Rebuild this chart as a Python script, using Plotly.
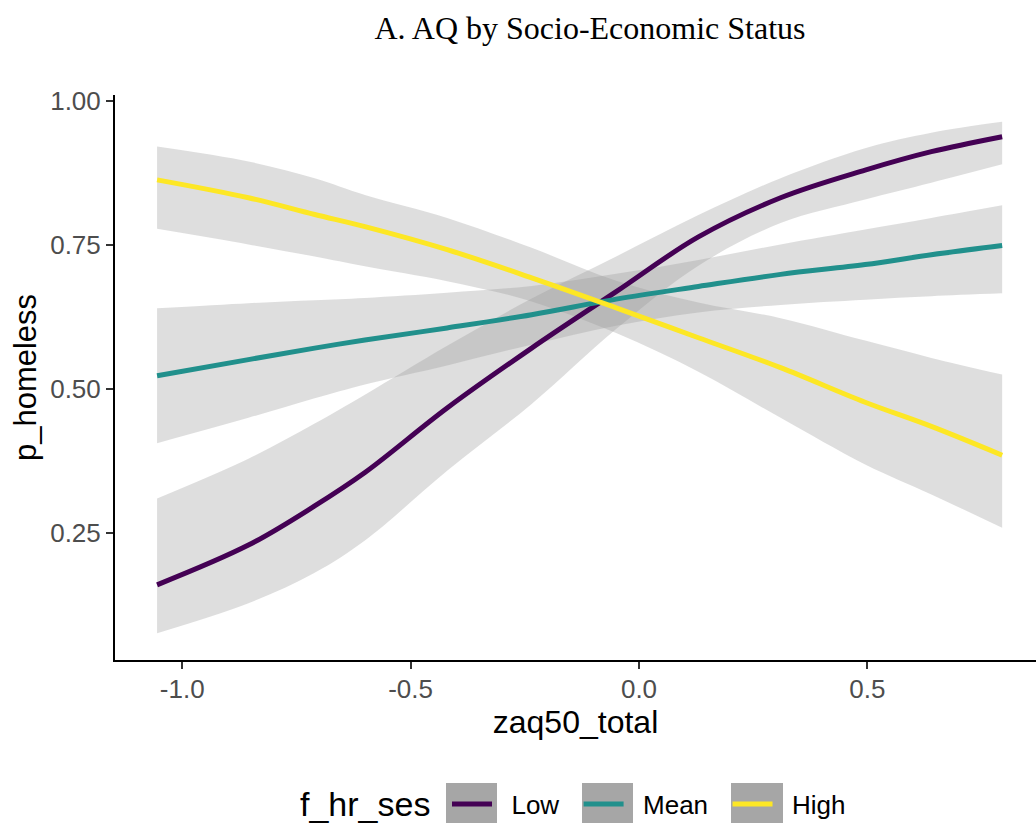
import plotly.graph_objects as go

# ---- data ----
x_vals = [-1.055, -0.855, -0.71, -0.60, -0.42, -0.235, -0.05, 0.13, 0.31, 0.495, 0.64, 0.795]

low_fit   = [0.160, 0.229, 0.297, 0.355, 0.467, 0.571, 0.669, 0.764, 0.832, 0.880, 0.912, 0.938]
low_upper = [0.310, 0.379, 0.440, 0.490, 0.575, 0.657, 0.730, 0.802, 0.866, 0.918, 0.945, 0.964]
low_lower = [0.076, 0.128, 0.181, 0.237, 0.358, 0.474, 0.604, 0.714, 0.788, 0.829, 0.858, 0.890]

mean_fit   = [0.523, 0.551, 0.571, 0.585, 0.606, 0.629, 0.656, 0.678, 0.699, 0.716, 0.733, 0.749]
mean_upper = [0.640, 0.649, 0.654, 0.658, 0.667, 0.679, 0.700, 0.724, 0.751, 0.777, 0.797, 0.819]
mean_lower = [0.406, 0.450, 0.484, 0.508, 0.541, 0.577, 0.610, 0.633, 0.646, 0.655, 0.661, 0.666]

high_fit   = [0.863, 0.832, 0.803, 0.782, 0.742, 0.693, 0.641, 0.589, 0.537, 0.477, 0.435, 0.385]
high_upper = [0.921, 0.895, 0.866, 0.837, 0.797, 0.745, 0.688, 0.650, 0.623, 0.584, 0.554, 0.525]
high_lower = [0.778, 0.751, 0.730, 0.713, 0.687, 0.652, 0.597, 0.530, 0.450, 0.369, 0.317, 0.259]

groups = ["Low", "Mean", "High"]
colors = ["#440154", "#21908C", "#FDE725"]
fits = [low_fit, mean_fit, high_fit]
uppers = [low_upper, mean_upper, high_upper]
lowers = [low_lower, mean_lower, high_lower]
legend_title = "f_hr_ses"

x_ticks = [-1.0, -0.5, 0.0, 0.5]
x_ticktext = ["-1.0", "-0.5", "0.0", "0.5"]
y_ticks = [0.25, 0.50, 0.75, 1.00]
y_ticktext = ["0.25", "0.50", "0.75", "1.00"]

RIBBON = "rgba(153,153,153,0.32)"
NB = "\u00a0"

fig = go.Figure()

# ribbons first (beneath every line)
for g, lo, up in zip(groups, lowers, uppers):
    fig.add_trace(go.Scatter(x=x_vals, y=lo, mode="lines", line=dict(width=0, shape="spline"),
                             showlegend=False, hoverinfo="skip"))
    fig.add_trace(go.Scatter(x=x_vals, y=up, mode="lines", line=dict(width=0, shape="spline"),
                             fill="tonexty", fillcolor=RIBBON, showlegend=False, hoverinfo="skip"))

# fitted lines (legend labels padded so the text sits clear of the grey key box)
pads = [(2, 2), (2, 2), (2, 0)]
for g, c, f, (pl, pr) in zip(groups, colors, fits, pads):
    fig.add_trace(go.Scatter(x=x_vals, y=f, mode="lines", name=NB * pl + g + NB * pr,
                             line=dict(color=c, width=5, shape="spline")))

W, H = 1036, 823
L, R, T, B = 115, 0, 95, 163
pw = W - L - R
ph = H - T - B

def px_x(p):
    return (p - L) / pw

def px_y(p):
    return (H - B - p) / ph

# grey legend key boxes (ggplot-style)
shapes = []
for x0, x1 in [(446, 497), (582, 633), (731, 783)]:
    shapes.append(dict(type="rect", xref="paper", yref="paper",
                       x0=px_x(x0), x1=px_x(x1), y0=px_y(826), y1=px_y(783),
                       fillcolor="#A6A6A6", line=dict(width=0), layer="below"))

fig.update_layout(
    width=W, height=H,
    margin=dict(l=L, r=R, t=T, b=B, pad=0),
    paper_bgcolor="white", plot_bgcolor="white",
    font=dict(family="Liberation Sans, Arial, sans-serif", color="black"),
    title=dict(text="A. AQ by Socio-Economic Status", x=590 / W, xanchor="center", xref="container",
               y=1 - 28 / H, yanchor="middle", yref="container",
               font=dict(family="Liberation Serif, Times New Roman, serif", size=32, color="black")),
    xaxis=dict(range=[-1.1471, 0.8691], tickvals=x_ticks, ticktext=x_ticktext,
               showgrid=False, zeroline=False, showline=True, linecolor="black", linewidth=2,
               ticks="outside", ticklen=7, tickwidth=2, tickcolor="#333333",
               ticklabelstandoff=-2,
               tickfont=dict(size=26, color="#4D4D4D"),
               title=dict(text="zaq50_total", font=dict(size=32, color="black"), standoff=0)),
    yaxis=dict(range=[0.0295, 1.0104], tickvals=y_ticks, ticktext=y_ticktext,
               showgrid=False, zeroline=False, showline=True, linecolor="black", linewidth=2,
               ticks="outside", ticklen=7, tickwidth=2, tickcolor="#333333",
               tickfont=dict(size=26, color="#4D4D4D"),
               title=dict(text="p_homeless", font=dict(size=31, color="black"), standoff=4)),
    legend=dict(orientation="h", x=447 / W, xref="container", xanchor="left",
                y=1 - 804 / H, yref="container", yanchor="middle",
                bgcolor="rgba(0,0,0,0)", itemwidth=40, traceorder="normal",
                font=dict(size=26, color="black")),
    annotations=[dict(text=legend_title, xref="paper", yref="paper",
                      x=px_x(298), y=px_y(804), xanchor="left", yanchor="middle",
                      showarrow=False, font=dict(size=34, color="black"))],
    shapes=shapes,
)

fig.write_html("out.html")
